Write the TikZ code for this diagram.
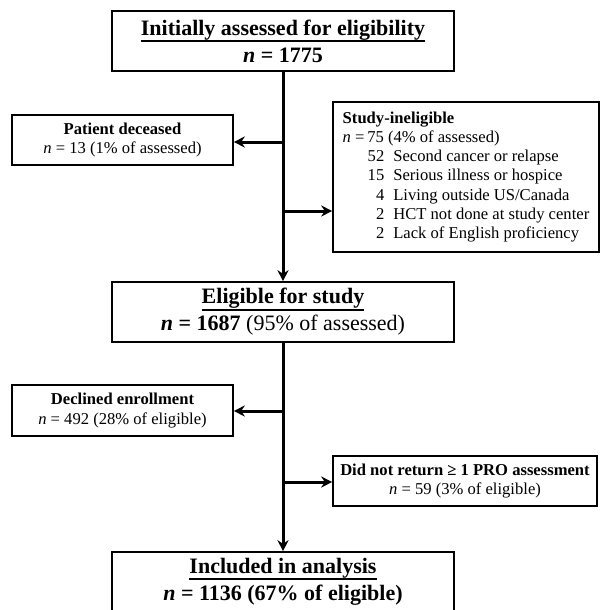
\documentclass[tikz,border=0pt]{standalone}
\usepackage{fontspec}
\setmainfont{Liberation Serif}
\usepackage{tikz}
\usepackage{xcolor}
\usetikzlibrary{shapes,arrows.meta,positioning,calc}
\newsavebox{\ulbox}
\newcommand{\ulhead}[1]{\sbox{\ulbox}{#1}\rlap{\rule[\dimexpr-\dp\ulbox-0.9pt\relax]{\wd\ulbox}{0.9pt}}\usebox{\ulbox}}

\begin{document}
\begin{tikzpicture}[x=0.5pt, y=-0.5pt,
  mainbox/.style={rectangle, draw, line width=0.8pt, minimum width=171pt, minimum height=30pt, inner sep=0pt, align=center, font=\fontsize{11}{13.5}\selectfont},
  sidebox/.style={rectangle, draw, line width=0.8pt, inner sep=0pt, align=center, font=\fontsize{8.3}{9.6}\selectfont},
  flow/.style={line width=1.5pt, -{Stealth[length=5.5pt, width=5.5pt]}}]
\useasboundingbox (0,0) rectangle (600,610);
\clip (0,0) rectangle (600,610);
% main boxes
\node[mainbox] (assessed) at (283,41) {\ulhead{\textbf{Initially assessed for eligibility}}\\ \textbf{\textit{n} = 1775}};
\node[mainbox] (eligible) at (283,312) {\ulhead{\textbf{Eligible for study}}\\ \textbf{\textit{n} = 1687} (95\% of assessed)};
\node[mainbox] (included) at (283,582) {\ulhead{\textbf{Included in analysis}}\\ \textbf{\textit{n} = 1136 (67\% of eligible)}};
% exclusion boxes
\node[sidebox, minimum width=110.5pt, minimum height=25pt] (deceased) at (122.5,140) {\textbf{Patient deceased}\\ \textit{n} = 13 (1\% of assessed)};
\node[sidebox, minimum width=133pt, minimum height=75pt] (ineligible) at (466,177) {%
  \begin{tabular}{@{\hspace{12.5pt}}r@{\hspace{4.5pt}}l@{}}
  \multicolumn{2}{@{}l@{}}{\textbf{Study-ineligible}}\\
  \multicolumn{2}{@{}l@{}}{\textit{n} =\,75 (4\% of assessed)}\\
  52 & Second cancer or relapse\\
  15 & Serious illness or hospice\\
  4 & Living outside US/Canada\\
  2 & HCT not done at study center\\
  2 & Lack of English proficiency
  \end{tabular}};
\node[sidebox, minimum width=110.5pt, minimum height=25.5pt] (declined) at (122.5,410.5) {\textbf{Declined enrollment}\\ \textit{n} = 492 (28\% of eligible)};
\node[sidebox, minimum width=132pt, minimum height=25pt] (noreturn) at (465,481) {\textbf{Did not return ≥ 1 PRO assessment}\\ \textit{n} = 59 (3\% of eligible)};
% branch points on the main line
\coordinate (br1) at (283,142);
\coordinate (br2) at (283,211);
\coordinate (br3) at (283,411);
\coordinate (br4) at (283,482);
% connectors
\draw[flow] (assessed.south) -- (eligible.north);
\draw[flow] (eligible.south) -- (included.north);
\draw[flow] (br1) -- (br1 -| deceased.east);
\draw[flow] (br2) -- (br2 -| ineligible.west);
\draw[flow] (br3) -- (br3 -| declined.east);
\draw[flow] (br4) -- (br4 -| noreturn.west);
\end{tikzpicture}
\end{document}
